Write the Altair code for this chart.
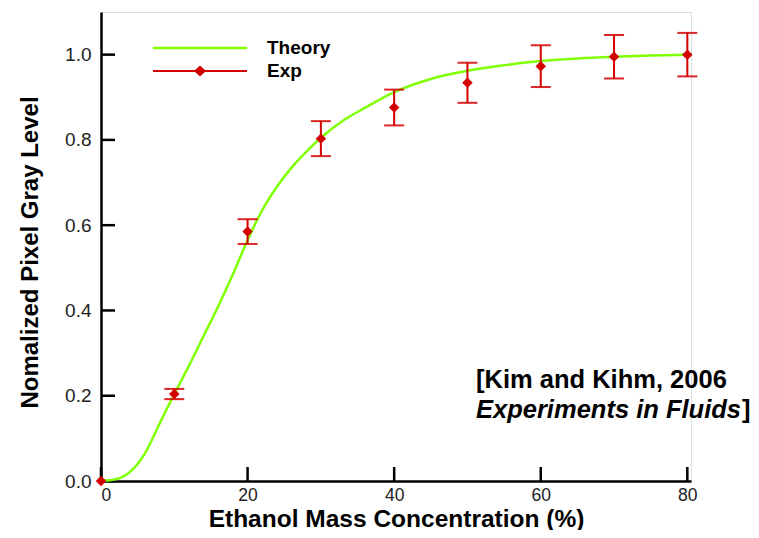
import altair as alt
import pandas as pd

# Theory curve
theory_x = [0, 2, 4, 6, 8, 10, 12, 14, 16, 18, 20, 22, 24, 26, 28, 30, 33, 36, 40, 45, 50, 55, 60, 65, 70, 75, 80]
theory_y = [0.0, 0.004, 0.022, 0.065, 0.135, 0.204, 0.27, 0.34, 0.41, 0.485, 0.565, 0.635, 0.69, 0.735, 0.772, 0.805, 0.845, 0.875, 0.912, 0.943, 0.962, 0.975, 0.985, 0.991, 0.995, 0.998, 1.0]

# Experimental points
exp_x = [0, 10, 20, 30, 40, 50, 60, 70, 80]
exp_y = [0.0, 0.204, 0.585, 0.803, 0.876, 0.934, 0.973, 0.995, 1.0]
exp_err = [0.0, 0.012, 0.029, 0.041, 0.042, 0.047, 0.049, 0.051, 0.051]

series_names = ["Theory", "Exp"]
x_ticks = [0, 20, 40, 60, 80]
y_ticks = [0.0, 0.2, 0.4, 0.6, 0.8, 1.0]

GREEN = "#7fff00"
RED = "#d40000"
FONT = "Liberation Sans"
W, H = 590, 469

theory = pd.DataFrame({"x": theory_x, "y": theory_y})
exp = pd.DataFrame({"x": exp_x, "y": exp_y, "err": exp_err})
legend_df = pd.DataFrame({"series": series_names})
xt = pd.DataFrame({"x": x_ticks})
yt = pd.DataFrame({"y": y_ticks})

xscale = alt.Scale(domain=[0, 80.5], nice=False, zero=False)
yscale = alt.Scale(domain=[0, 1.1], nice=False, zero=False)
XT = "Ethanol Mass Concentration (%)"
YT = "Nomalized Pixel Gray Level"

xaxis = alt.Axis(values=x_ticks, format="d", ticks=False, grid=False,
                 domainColor="black", domainWidth=2.5,
                 labelFont=FONT, labelFontSize=17.5, labelColor="#222", labelPadding=5,
                 titleFont=FONT, titleFontSize=24.5, titleFontWeight="bold", titleColor="black",
                 titleX=295, titleY=45, titleBaseline="alphabetic", titleAnchor="middle")
yaxis = alt.Axis(values=y_ticks, format=".1f", ticks=False, grid=False,
                 domainColor="black", domainWidth=2.5,
                 labelFont=FONT, labelFontSize=19, labelColor="#222", labelPadding=10,
                 titleFont=FONT, titleFontSize=24, titleFontWeight="bold", titleColor="black",
                 titleX=-64, titleY=240, titleBaseline="alphabetic", titleAngle=270)


def X(field="x"):
    return alt.X(f"{field}:Q", scale=xscale, axis=xaxis, title=XT)


def Y(field="y"):
    return alt.Y(f"{field}:Q", scale=yscale, axis=yaxis, title=YT)


x_tick_layer = alt.Chart(xt).mark_rule(color="black", strokeWidth=2.5).encode(
    x=X(), y=alt.value(H), y2=alt.value(H - 14))
y_tick_layer = alt.Chart(yt).mark_rule(color="black", strokeWidth=2.5).encode(
    y=Y(), x=alt.value(0), x2=alt.value(14))

line = alt.Chart(theory).mark_line(color=GREEN, strokeWidth=2.5, interpolate="monotone").encode(
    x=X(), y=Y())

eb_base = alt.Chart(exp).transform_filter("datum.err > 0").transform_calculate(
    lo="datum.y - datum.err", hi="datum.y + datum.err")
eb_rule = eb_base.mark_rule(color=RED, strokeWidth=2).encode(
    x=X(), y=Y("lo"), y2="hi:Q")
eb_lo = eb_base.mark_tick(color=RED, orient="horizontal", size=20, thickness=2, opacity=0.85).encode(
    x=X(), y=Y("lo"))
eb_hi = eb_base.mark_tick(color=RED, orient="horizontal", size=20, thickness=2, opacity=0.85).encode(
    x=X(), y=Y("hi"))

pts = alt.Chart(exp).mark_point(shape="diamond", filled=True, size=110, color=RED, opacity=1).encode(
    x=X(), y=Y())

# legend symbols: unit = 10 px (symbolSize 400 -> half-size 10)
line_path = "M-4.7,-0.125H4.7V0.125H-4.7Z"
exp_path = "M-4.7,-0.1H4.7V0.1H-4.7Z M-0.6,0L0,-0.55L0.6,0L0,0.55Z"
legend = alt.Legend(title=None, orient="none", legendX=89, legendY=26, padding=0,
                    labelFont=FONT, labelFontSize=19, labelFontWeight="bold", labelColor="black",
                    labelOffset=57, rowPadding=3, symbolSize=400, symbolStrokeWidth=0,
                    symbolOpacity=1)
leg = alt.Chart(legend_df).transform_filter("false").mark_point(filled=True, opacity=1, size=400).encode(
    color=alt.Color("series:N", scale=alt.Scale(domain=series_names, range=[GREEN, RED]), legend=legend, title=None),
    shape=alt.Shape("series:N", scale=alt.Scale(domain=series_names, range=[line_path, exp_path]), legend=legend, title=None),
)

ann1 = alt.Chart(legend_df.head(1)).mark_text(
    text="[Kim and Kihm, 2006", font=FONT, fontSize=25.5, fontWeight="bold", color="black",
    align="left", baseline="middle").encode(x=alt.value(375), y=alt.value(368))
ann2 = alt.Chart(legend_df.head(1)).mark_text(
    text="Experiments in Fluids", font=FONT, fontSize=25.5, fontWeight="bold", fontStyle="italic",
    color="black", align="left", baseline="middle").encode(x=alt.value(375), y=alt.value(398))
ann3 = alt.Chart(legend_df.head(1)).mark_text(
    text="]", font=FONT, fontSize=25.5, fontWeight="bold", color="black",
    align="left", baseline="middle").encode(x=alt.value(641), y=alt.value(398))

chart = alt.layer(x_tick_layer, y_tick_layer, line, eb_rule, eb_lo, eb_hi, pts, leg, ann1, ann2, ann3).properties(
    width=W, height=H,
    autosize=alt.AutoSizeParams(type="none"),
    padding={"left": 93, "top": 4, "right": 60, "bottom": 49},
).configure_view(stroke="transparent").configure(background="white")

chart.save("out.html", embed_options={"renderer": "svg", "actions": False})
